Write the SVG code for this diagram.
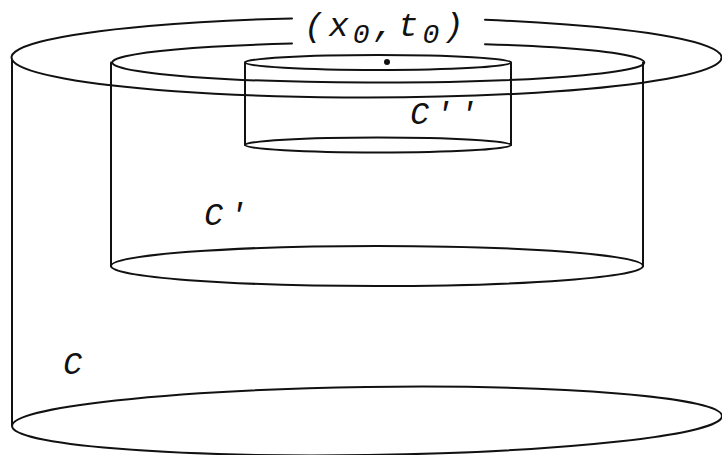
<svg xmlns="http://www.w3.org/2000/svg" width="722" height="455" viewBox="0 0 722 455">
<style>
.ln{fill:none;stroke:#111;stroke-width:2;stroke-linecap:round}
.lb{font-family:"Liberation Mono","DejaVu Sans Mono",monospace;font-style:italic;fill:#111;font-size:32px;letter-spacing:5px}
</style>
<rect width="722" height="455" fill="#fff"/>
<g id="C">
  <path class="ln" d="M292 18.4 A355 40 0 1 0 485 19.8"/>
  <line class="ln" x1="12" y1="60" x2="12" y2="425"/>
  <ellipse class="ln" cx="367" cy="421" rx="355" ry="34" transform="rotate(-0.8 367 421)"/>
  <text class="lb" x="63" y="374">C</text>
</g>
<g id="C1">
  <path class="ln" d="M292 43.6 A266 20 0 1 0 485 44.2"/>
  <line class="ln" x1="111" y1="62.5" x2="111" y2="266"/>
  <line class="ln" x1="643" y1="62.5" x2="643" y2="266"/>
  <ellipse class="ln" cx="377" cy="266" rx="266" ry="20"/>
  <text class="lb" x="204" y="225">C'</text>
</g>
<g id="C2">
  <ellipse class="ln" cx="378" cy="62.5" rx="133" ry="7.5"/>
  <line class="ln" x1="245" y1="62.5" x2="245" y2="145"/>
  <line class="ln" x1="511" y1="62.5" x2="511" y2="145"/>
  <ellipse class="ln" cx="378" cy="145" rx="133" ry="7.5"/>
  <text class="lb" x="410" y="124">C''</text>
</g>
<g id="point">
  <circle cx="387" cy="62" r="3" fill="#111"/>
  <text class="lb" x="304" y="36" style="font-size:34px;letter-spacing:4px">(x<tspan dy="7" style="font-size:28px">0</tspan><tspan dy="-7">,t</tspan><tspan dy="7" style="font-size:28px">0</tspan><tspan dy="-7">)</tspan></text>
</g>
</svg>
